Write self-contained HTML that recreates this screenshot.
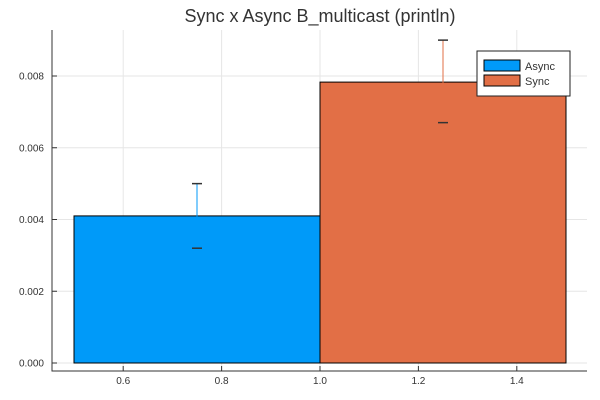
<!DOCTYPE html>
<html><head><meta charset="utf-8"><style>
body{margin:0;background:#fff}
svg{display:block;font-family:"Liberation Sans",sans-serif}
</style></head><body>
<svg id="c" width="600" height="400">
<text x="320" y="22" font-size="18" text-anchor="middle" fill="#333">Sync x Async B_multicast (println)</text>
<g id="grid"></g><g id="bars"></g><g id="axes"></g>
<g>
<rect x="477" y="51" width="93" height="45" fill="#fff" stroke="#222" stroke-width="1"/>
<rect x="484" y="60" width="36" height="11" fill="#009af9" stroke="#000"/>
<text x="525" y="70" font-size="11" fill="#333">Async</text>
<rect x="484" y="75" width="36" height="11" fill="#e26f46" stroke="#000"/>
<text x="525" y="85" font-size="11" fill="#333">Sync</text>
</g>
</svg>
<script>
const categories=["Async","Sync"];
const xStarts=[0.5,1.0];
const values=[0.0041,0.00783];
const errLow=[0.0032,0.0067];
const errHigh=[0.0050,0.0090];
const colors=["#009af9","#e26f46"];
const xTicks=[0.6,0.8,1.0,1.2,1.4];
const yTicks=[0,0.002,0.004,0.006,0.008];
const L=52,R=587,T=30,B=371;
const sx=v=>320+(v-1.0)*492;
const sy=v=>363-v*35875;
const NS="http://www.w3.org/2000/svg";
function mk(p,tag,a){const e=document.createElementNS(NS,tag);for(const k in a)e.setAttribute(k,a[k]);document.getElementById(p).appendChild(e);return e;}
xTicks.forEach(t=>{
 const g=mk('grid','line',{x1:sx(t),x2:sx(t),y1:T,y2:B,stroke:"#e6e6e6"});
 
 
 const tk=mk('axes','line',{x1:sx(t),x2:sx(t),y1:B,y2:B-5,stroke:"#333"});
 
 
 const tx=mk('axes','text',{x:sx(t),y:B+13,"font-size":10,"text-anchor":"middle",fill:"#333"});
 tx.textContent=t.toFixed(1);
 
 
});
yTicks.forEach(t=>{
 const g=mk('grid','line',{x1:L,x2:R,y1:sy(t),y2:sy(t),stroke:"#e6e6e6"});
 
 
 const tk=mk('axes','line',{x1:L,x2:L+5,y1:sy(t),y2:sy(t),stroke:"#333"});
 
 
 const tx=mk('axes','text',{x:L-8,y:sy(t)+3.5,"font-size":10,"text-anchor":"end",fill:"#333"});
 tx.textContent=t.toFixed(3);
 
 
});
categories.forEach((c,i)=>{
 const x0=sx(xStarts[i]),x1=sx(xStarts[i]+0.5);
 const r=mk('bars','rect',{x:x0,y:sy(values[i]),width:x1-x0,height:sy(0)-sy(values[i]),fill:colors[i],stroke:"#000","stroke-width":1});
 
 
 const cx=sx(xStarts[i]+0.25);
 const w=mk('bars','line',{x1:cx,x2:cx,y1:sy(errLow[i]),y2:sy(errHigh[i]),stroke:colors[i],"stroke-width":1});
 
 
 [errLow[i],errHigh[i]].forEach(v=>{
  const cp=mk('bars','line',{x1:cx-5,x2:cx+5,y1:sy(v),y2:sy(v),stroke:"#333","stroke-width":1.5});
  
  
 });
});
const ax=mk('axes','path',{d:`M${L},${T}V${B}H${R}`,fill:"none",stroke:"#333","stroke-width":1});


</script>
</body></html>
